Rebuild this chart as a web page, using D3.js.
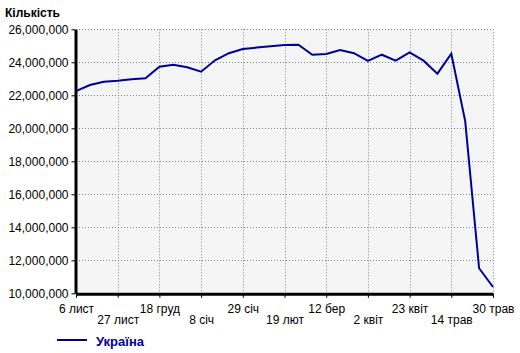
<!DOCTYPE html>
<html>
<head>
<meta charset="utf-8">
<script src="https://cdn.jsdelivr.net/npm/d3@7"></script>
<style>
  body { margin: 0; background: #fff; }
  svg text { font-family: "Liberation Sans", Arial, sans-serif; }
  .grid line { stroke: #808080; stroke-width: 1px; stroke-dasharray: 1,2; }
</style>
</head>
<body>
<div id="chart"></div>
<script>
// weekly points (categorical axis), last one is 30 May
var weeks = ["6 лист", "13 лист", "20 лист", "27 лист", "4 груд", "11 груд", "18 груд",
             "25 груд", "1 січ", "8 січ", "15 січ", "22 січ", "29 січ", "5 лют",
             "12 лют", "19 лют", "26 лют", "5 бер", "12 бер", "19 бер", "26 бер",
             "2 квіт", "9 квіт", "16 квіт", "23 квіт", "30 квіт", "7 трав", "14 трав",
             "21 трав", "28 трав", "30 трав"];
var ukraine = [22250000, 22620000, 22820000, 22880000, 22970000, 23030000, 23730000,
               23850000, 23700000, 23430000, 24120000, 24550000, 24810000, 24890000,
               24970000, 25050000, 25070000, 24460000, 24500000, 24740000, 24550000,
               24080000, 24460000, 24100000, 24600000, 24100000, 23310000, 24520000,
               20440000, 11520000, 10380000];
var yTicks = [10000000, 12000000, 14000000, 16000000, 18000000, 20000000, 22000000, 24000000, 26000000];
var xTickLabels = ["6 лист", "27 лист", "18 груд", "8 січ", "29 січ", "19 лют",
                   "12 бер", "2 квіт", "23 квіт", "14 трав", "30 трав"];
var seriesName = "Україна";
var yTitle = "Кількість";

var lineColor = "#000099";
var width = 520, height = 353;
var plotLeft = 76, plotRight = 493, plotTop = 29.3, plotBottom = 293.3;

var svg = d3.select("#chart")
  .append("svg")
    .attr("width", width)
    .attr("height", height);

var x = d3.scalePoint()
    .domain(weeks)
    .range([plotLeft, plotRight]);

var y = d3.scaleLinear()
    .domain([10000000, 26000000])
    .range([plotBottom, plotTop]);

// plot background
svg.append("rect")
    .attr("x", plotLeft)
    .attr("y", plotTop)
    .attr("width", plotRight - plotLeft)
    .attr("height", plotBottom - plotTop)
    .attr("fill", "#f5f5f5");

// dotted grid
var grid = svg.append("g").attr("class", "grid");
grid.selectAll(".hg")
    .data(yTicks.slice(1))
    .enter().append("line")
      .attr("x1", plotLeft)
      .attr("x2", plotRight)
      .attr("y1", function(d) { return Math.round(y(d)) + 0.5; })
      .attr("y2", function(d) { return Math.round(y(d)) + 0.5; });
grid.selectAll(".vg")
    .data(xTickLabels.slice(1))
    .enter().append("line")
      .attr("x1", function(d) { return Math.round(x(d)) + 0.5; })
      .attr("x2", function(d) { return Math.round(x(d)) + 0.5; })
      .attr("y1", plotTop)
      .attr("y2", plotBottom);

// Y axis
var yAxis = svg.append("g")
    .attr("transform", "translate(" + (plotLeft - 0.5) + ",0)")
    .call(d3.axisLeft(y)
        .tickValues(yTicks)
        .tickFormat(d3.format(","))
        .tickSize(4)
        .tickSizeOuter(0));
yAxis.select(".domain").attr("stroke-width", 3);
yAxis.selectAll("text").style("font-size", "12px").attr("fill", "#000");

// X axis
var xAxis = svg.append("g")
    .attr("transform", "translate(0," + (plotBottom + 0.5) + ")")
    .call(d3.axisBottom(x)
        .tickValues(xTickLabels)
        .tickSize(4)
        .tickSizeOuter(0));
xAxis.select(".domain").attr("stroke-width", 3);
xAxis.selectAll("text")
    .style("font-size", "12px")
    .attr("fill", "#000")
    .attr("dy", null)
    .attr("y", function(d, i) { return i % 2 === 0 ? 19 : 30; });

// the series
var line = d3.line()
    .x(function(d, i) { return x(weeks[i]); })
    .y(function(d) { return y(d); });

svg.append("path")
    .datum(ukraine)
    .attr("d", line)
    .attr("fill", "none")
    .attr("stroke", lineColor)
    .attr("stroke-width", 2);

// title
svg.append("text")
    .attr("x", 5)
    .attr("y", 17)
    .style("font-size", "12px")
    .style("font-weight", "bold")
    .text(yTitle);

// legend
svg.append("line")
    .attr("x1", 57)
    .attr("x2", 87)
    .attr("y1", 340)
    .attr("y2", 340)
    .attr("stroke", lineColor)
    .attr("stroke-width", 2);
svg.append("text")
    .attr("x", 96)
    .attr("y", 346)
    .style("font-size", "13px")
    .style("font-weight", "bold")
    .attr("fill", lineColor)
    .text(seriesName);
</script>
</body>
</html>
